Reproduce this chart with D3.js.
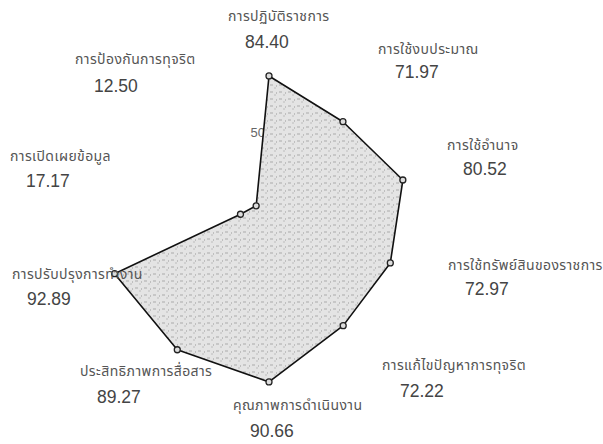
<!DOCTYPE html>
<html><head><meta charset="utf-8">
<script src="https://cdn.jsdelivr.net/npm/d3@7/dist/d3.min.js"></script>
<style>body{margin:0;background:#fff}svg{display:block}</style>
</head><body>
<svg id="c" width="603" height="444"></svg>
<script>
const categories = ["การปฏิบัติราชการ","การใช้งบประมาณ","การใช้อำนาจ","การใช้ทรัพย์สินของราชการ","การแก้ไขปัญหาการทุจริต","คุณภาพการดำเนินงาน","ประสิทธิภาพการสื่อสาร","การปรับปรุงการทำงาน","การเปิดเผยข้อมูล","การป้องกันการทุจริต"];
const values = [84.40,71.97,80.52,72.97,72.22,90.66,89.27,92.89,17.17,12.50];
const tickLabels = ["50"];

// label layout: [category x, category baseline, value x, value baseline]
const labelLayout = [[228,21,245,48],[378,54,395,78],[447,150,463,175],[448,270,465,295],[382,370,400,397],
                     [233,410,250,437],[80,376,97,403],[12,279,27,305],[10,161,26,187],[75,64,94,92]];

const svg = d3.select("#c");
const cx = 269, cy = 223.5;
const r = d3.scaleLinear().domain([0,100]).range([0,174.8]);
const ang = d3.scaleLinear().domain([0,categories.length]).range([0,2*Math.PI]);

const defs = svg.append("defs");
const pat = defs.append("pattern").attr("id","stip").attr("patternUnits","userSpaceOnUse").attr("width",9).attr("height",7);
pat.append("rect").attr("width",9).attr("height",7).attr("fill","#e4e4e4");
pat.append("rect").attr("x",1).attr("y",1).attr("width",3).attr("height",1).attr("fill","#aaa");
pat.append("rect").attr("x",5).attr("y",4).attr("width",2).attr("height",1).attr("fill","#bbb");
pat.append("rect").attr("x",7).attr("y",2).attr("width",1).attr("height",1).attr("fill","#999");

const g = svg.append("g").attr("transform",`translate(${cx},${cy})`);

g.selectAll(".tick").data(tickLabels).join("text")
  .attr("x",-4).attr("y",d=>-r(+d)+1)
  .attr("text-anchor","end").attr("font-family","Liberation Sans, Arial, sans-serif")
  .attr("font-size",13).attr("fill","#666").text(d=>d);

const line = d3.lineRadial().angle((d,i)=>ang(i)).radius(d=>r(d)).curve(d3.curveLinearClosed);
g.append("path").datum(values).attr("d",line)
  .attr("fill","url(#stip)")
  .attr("stroke","#111").attr("stroke-width",1.6).attr("stroke-linejoin","round");

g.selectAll("circle").data(values).join("circle")
  .attr("cx",(d,i)=>r(d)*Math.sin(ang(i)))
  .attr("cy",(d,i)=>-r(d)*Math.cos(ang(i)))
  .attr("r",3).attr("fill","#ddd").attr("stroke","#222").attr("stroke-width",1.3);

const lab = svg.append("g").attr("fill","#555");
categories.forEach((c,i)=>{
  const [x,y,vx,vy] = labelLayout[i];
  lab.append("text").attr("x",x).attr("y",y).attr("font-size",14).attr("letter-spacing",0.4)
    .attr("font-family","'Noto Sans Thai','Noto Sans',sans-serif").text(c);
  lab.append("text").attr("x",vx).attr("y",vy).attr("font-size",17.5)
    .attr("font-family","Liberation Sans, Arial, sans-serif").attr("fill","#444").text(values[i].toFixed(2));
});
</script>
</body></html>
